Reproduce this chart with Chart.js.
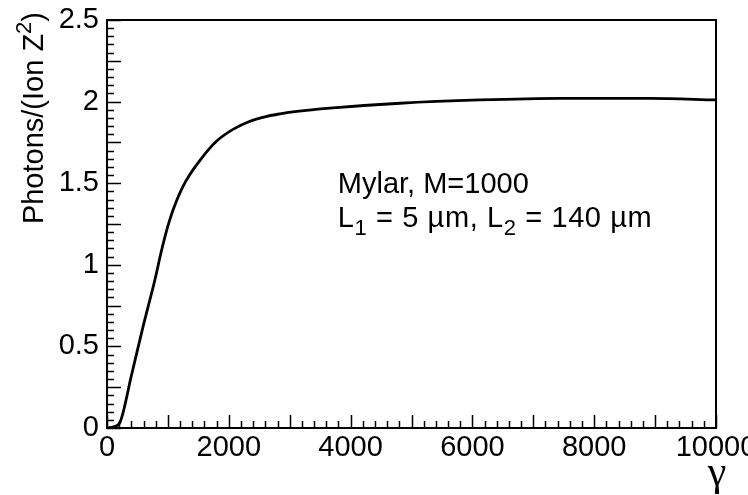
<!DOCTYPE html>
<html>
<head>
<meta charset="utf-8">
<script src="https://cdn.jsdelivr.net/npm/chart.js@4.4.1/dist/chart.umd.min.js"></script>
<style>
  html, body { margin: 0; padding: 0; background: #fff; }
  #wrap { position: relative; width: 748px; height: 495px; }
</style>
</head>
<body>
<div id="wrap"><canvas id="c"></canvas></div>
<script>
// values
const gammaVals  = [0, 110, 213, 400, 591, 788, 903, 1034, 1248, 1527, 1806, 2069, 2348, 2627, 2841, 3120, 3662, 4811, 6125, 7438, 8916, 10000];
const photonVals = [0, 0.008, 0.035, 0.32, 0.62, 0.91, 1.10, 1.28, 1.48, 1.64, 1.76, 1.83, 1.88, 1.91, 1.925, 1.94, 1.96, 1.99, 2.01, 2.02, 2.02, 2.01];

const xTickLabels = ["0", "2000", "4000", "6000", "8000", "10000"];
const yTickLabels = ["0", "0.5", "1", "1.5", "2", "2.5"];
const xTitle = "\u03B3";
// rich text pieces: [text, "n" normal | "sub" | "sup"]
const yTitleParts = [["Photons/(Ion Z", "n"], ["2", "sup"], [")", "n"]];
const noteLine1 = [["Mylar, M=1000", "n"]];
const noteLine2 = [["L", "n"], ["1", "sub"], [" = 5 \u00B5m, L", "n"], ["2", "sub"], [" = 140 \u00B5m", "n"]];

const FONT = "'Liberation Sans', Arial, sans-serif";
const FS = 29;

function drawRich(ctx, parts, x, y, size) {
    let cx = x;
    for (const [txt, kind] of parts) {
        const s = kind === "n" ? size : Math.round(size * 0.75);
        const dy = kind === "sub" ? size * 0.28 : kind === "sup" ? -size * 0.4 : 0;
        ctx.font = s + "px " + FONT;
        ctx.fillText(txt, cx, y + dy);
        cx += ctx.measureText(txt).width;
    }
    return cx - x;
}

function richWidth(ctx, parts, size) {
    let w = 0;
    for (const [txt, kind] of parts) {
        ctx.font = (kind === "n" ? size : Math.round(size * 0.75)) + "px " + FONT;
        w += ctx.measureText(txt).width;
    }
    return w;
}

// ROOT-like frame, inner ticks and free text
const framePlugin = {
    id: "frame",
    afterDraw(chart) {
        const { ctx, chartArea: a, scales: { x, y } } = chart;
        ctx.save();
        ctx.strokeStyle = "#000";
        ctx.lineWidth = 2;
        ctx.strokeRect(a.left, a.top, a.right - a.left, a.bottom - a.top);

        ctx.lineWidth = 1.5;
        ctx.beginPath();
        for (let g = 0; g <= 10000; g += 200) {
            const px = Math.round(x.getPixelForValue(g)) + 0.5;
            const len = g % 1000 === 0 ? 13 : 7;
            ctx.moveTo(px, a.bottom);
            ctx.lineTo(px, a.bottom - len);
        }
        for (let i = 0; i <= 50; i++) {
            const py = Math.round(y.getPixelForValue(i * 0.05)) + 0.5;
            const len = i % 5 === 0 ? 14 : 7;
            ctx.moveTo(a.left, py);
            ctx.lineTo(a.left + len, py);
        }
        ctx.stroke();

        ctx.fillStyle = "#000";
        ctx.textBaseline = "alphabetic";
        ctx.textAlign = "left";

        // y title, right-aligned to the top like the original
        ctx.save();
        ctx.translate(43, 12);
        ctx.rotate(-Math.PI / 2);
        drawRich(ctx, yTitleParts, -richWidth(ctx, yTitleParts, FS), 0, FS);
        ctx.restore();

        // x title
        ctx.font = "42px 'Liberation Serif', 'DejaVu Serif', serif";
        ctx.textAlign = "center";
        ctx.fillText(xTitle, 717, 485);
        ctx.textAlign = "left";

        // note
        const nx = x.getPixelForValue(3790);
        drawRich(ctx, noteLine1, nx, y.getPixelForValue(1.44), FS);
        ctx.letterSpacing = "0.6px";
        drawRich(ctx, noteLine2, nx, y.getPixelForValue(1.23), FS);
        ctx.restore();
    }
};

new Chart(document.getElementById("c"), {
    type: "scatter",
    data: {
        datasets: [{
            data: gammaVals.map((g, i) => ({ x: g, y: photonVals[i] })),
            showLine: true,
            borderColor: "#000",
            borderWidth: 2.8,
            pointRadius: 0,
            cubicInterpolationMode: "monotone",
        }],
    },
    options: {
        responsive: true,
        maintainAspectRatio: false,
        animation: false,
        events: [],
        layout: { padding: { top: 20, right: 32, left: 0, bottom: 0 } },
        plugins: { legend: { display: false }, tooltip: { enabled: false } },
        scales: {
            x: {
                type: "linear",
                min: 0,
                max: 10000,
                grid: { display: false, drawTicks: false },
                border: { display: false },
                ticks: {
                    stepSize: 2000,
                    autoSkip: false,
                    maxRotation: 0,
                    padding: 3,
                    color: "#000",
                    font: { family: FONT, size: FS },
                    callback: (v) => xTickLabels[Math.round(v / 2000)],
                },
                afterFit: (s) => { s.height = 67; s.paddingLeft = 0; s.paddingRight = 0; },
            },
            y: {
                min: 0,
                max: 2.5,
                grid: { display: false, drawTicks: false },
                border: { display: false },
                ticks: {
                    stepSize: 0.5,
                    padding: 8,
                    color: "#000",
                    font: { family: FONT, size: FS },
                    callback: (v) => yTickLabels[Math.round(v / 0.5)],
                },
                afterFit: (s) => { s.width = 107; s.paddingTop = 0; s.paddingBottom = 0; },
            },
        },
    },
    plugins: [framePlugin],
});
</script>
</body>
</html>
